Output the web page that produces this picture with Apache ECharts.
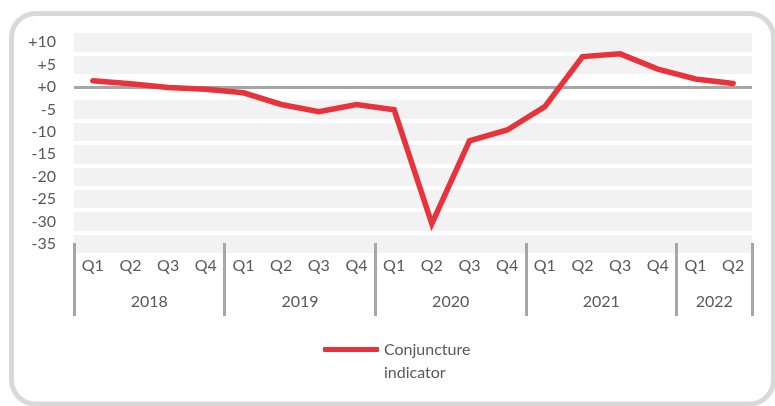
<!DOCTYPE html>
<html>
<head>
<meta charset="utf-8">
<script src="https://cdn.jsdelivr.net/npm/echarts@6/dist/echarts.min.js"></script>
<style>html,body{margin:0;padding:0;background:#fff;}#c{width:775px;height:406px;}</style>
</head>
<body>
<div id="c"></div>
<script>
const quarters = ['Q1','Q2','Q3','Q4','Q1','Q2','Q3','Q4','Q1','Q2','Q3','Q4','Q1','Q2','Q3','Q4','Q1','Q2'];
const years = ['2018','2019','2020','2021','2022'];
const yearStarts = [0, 4, 8, 12, 16, 18];
const yearCenters = [2, 6, 10, 14, 17];
const conjuncture = [1.4, 0.7, -0.1, -0.5, -1.3, -3.9, -5.5, -3.9, -5.1, -30.5, -12.0, -9.6, -4.4, 6.8, 7.4, 4.0, 1.8, 0.8];
const yTicks = [-35, -30, -25, -20, -15, -10, -5, 0, 5, 10];
const seriesName = 'Conjuncture indicator';

const textColor = '#595959';
const font = 'Lato';
const fs = 16;
const chart = echarts.init(document.getElementById('c'), null, {renderer: 'canvas'});
const bandColors = ['#f2f2f2','#f2f2f2','#f2f2f2','#f2f2f2','#f2f2f2','#f2f2f2','#f2f2f2','#ffffff','#f2f2f2','#f2f2f2'];

chart.setOption({
  animation: false,
  backgroundColor: '#ffffff',
  textStyle: {fontFamily: font},
  graphic: [{
    type: 'rect', z: -10, silent: true,
    shape: {x: 11.5, y: 13.5, width: 762, height: 390.5, r: 24},
    style: {fill: '#ffffff', stroke: '#d9d9d9', lineWidth: 5}
  }],
  grid: {left: 74, right: 23, top: 31, height: 224},
  xAxis: [{
    type: 'category', data: quarters, boundaryGap: true, position: 'bottom', offset: -12,
    axisLine: {show: false, onZero: false}, axisTick: {show: false}, splitLine: {show: false},
    axisLabel: {margin: 15, color: textColor, fontSize: fs, fontFamily: font, interval: 0}
  }, {
    type: 'value', min: 0, max: 18, position: 'bottom', offset: -12,
    axisLine: {show: false, onZero: false}, splitLine: {show: false},
    axisTick: {show: true, customValues: yearStarts, length: 73, lineStyle: {color: '#a6a6a6', width: 3}},
    axisLabel: {customValues: yearCenters, margin: 51, color: textColor, fontSize: fs, fontFamily: font,
      formatter: function (v) { return years[yearCenters.indexOf(v)]; }}
  }],
  yAxis: [{
    type: 'value', min: -37.5, max: 12.5, interval: 5,
    axisLine: {show: false}, axisTick: {show: false}, axisLabel: {show: false},
    splitLine: {show: true, lineStyle: {color: '#ffffff', width: 4}},
    splitArea: {show: true, areaStyle: {color: bandColors}}
  }, {
    type: 'value', min: -37.5, max: 12.5, position: 'left',
    axisLine: {show: false}, axisTick: {show: false}, splitLine: {show: false},
    axisLabel: {customValues: yTicks, margin: 18, color: textColor, fontSize: fs, fontFamily: font,
      formatter: function (v) { return v >= 0 ? '+' + v : String(v); }}
  }],
  legend: {
    left: 323, top: 315, padding: 0,
    icon: 'roundRect', itemWidth: 56, itemHeight: 5,
    formatter: function () { return ' \nConjuncture\nindicator'; },
    textStyle: {color: textColor, fontSize: fs, fontFamily: font, lineHeight: 23},
    data: [seriesName]
  },
  series: [{
    name: seriesName, type: 'line', xAxisIndex: 0, yAxisIndex: 0,
    data: conjuncture, showSymbol: false, symbol: 'none',
    lineStyle: {color: '#e8323c', width: 5.5, join: 'miter', cap: 'round'},
    itemStyle: {color: '#e8323c'},
    z: 5,
    markLine: {
      silent: true, symbol: ['none','none'], label: {show: false}, z: 3,
      lineStyle: {color: '#a6a6a6', width: 3, type: 'solid'},
      emphasis: {disabled: true},
      data: [{yAxis: 0}]
    }
  }]
});
</script>
</body>
</html>
